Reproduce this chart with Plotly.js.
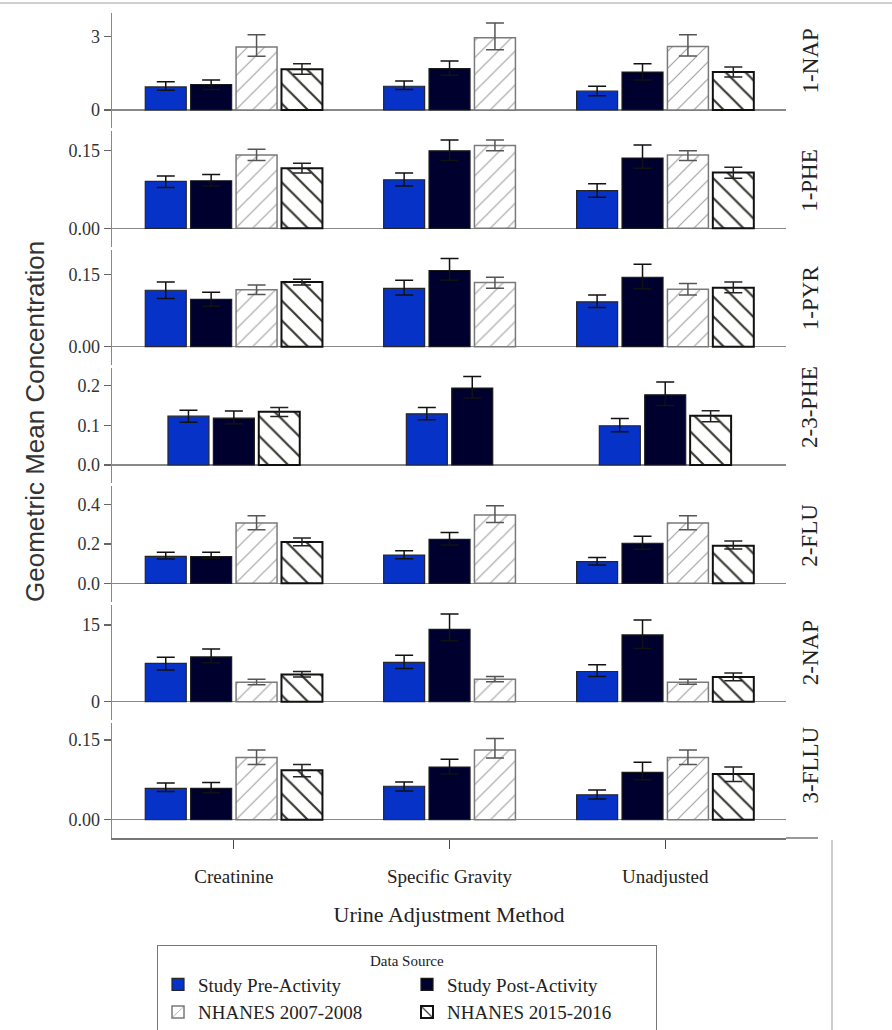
<!DOCTYPE html>
<html><head><meta charset="utf-8">
<script src="https://cdn.plot.ly/plotly-3.0.1.min.js"></script>
<style>html,body{margin:0;padding:0;background:#fff}</style>
</head><body><div id="chart" style="width:892px;height:1030px"></div>
<script>
const categories = ['Creatinine', 'Specific Gravity', 'Unadjusted'];
const analytes = ['1-NAP', '1-PHE', '1-PYR', '2-3-PHE', '2-FLU', '2-NAP', '3-FLLU'];
const seriesNames = ['Study Pre-Activity', 'Study Post-Activity', 'NHANES 2007-2008', 'NHANES 2015-2016'];

// rows = analytes (top to bottom), columns = categories
const preMean  = [[0.94, 0.97, 0.77], [0.091, 0.094, 0.073], [0.117, 0.121, 0.093], [0.123, 0.129, 0.099], [0.137, 0.144, 0.110], [7.5, 7.7, 5.9], [0.059, 0.063, 0.047]];
const preLow   = [[0.81, 0.84, 0.58], [0.079, 0.082, 0.060], [0.100, 0.107, 0.081], [0.108, 0.114, 0.084], [0.124, 0.125, 0.093], [6.2, 6.5, 4.9], [0.053, 0.054, 0.039]];
const preHigh  = [[1.15, 1.18, 0.97], [0.101, 0.107, 0.086], [0.134, 0.138, 0.107], [0.138, 0.145, 0.117], [0.158, 0.166, 0.132], [8.7, 9.1, 7.2], [0.069, 0.071, 0.056]];

const postMean = [[1.04, 1.69, 1.55], [0.092, 0.150, 0.136], [0.098, 0.158, 0.144], [0.118, 0.194, 0.177], [0.136, 0.224, 0.204], [8.75, 14.15, 13.05], [0.059, 0.099, 0.089]];
const postLow  = [[0.84, 1.42, 1.22], [0.082, 0.131, 0.116], [0.084, 0.138, 0.120], [0.104, 0.169, 0.150], [0.127, 0.195, 0.173], [7.6, 11.9, 10.4], [0.051, 0.086, 0.075]];
const postHigh = [[1.22, 2.00, 1.89], [0.104, 0.171, 0.161], [0.113, 0.183, 0.171], [0.136, 0.223, 0.209], [0.158, 0.259, 0.239], [10.3, 17.15, 16.0], [0.070, 0.114, 0.108]];

const n0708Mean = [[2.57, 2.95, 2.59], [0.142, 0.160, 0.142], [0.118, 0.133, 0.119], [null, null, null], [0.307, 0.348, 0.307], [3.8, 4.4, 3.8], [0.117, 0.131, 0.117]];
const n0708Low  = [[2.19, 2.46, 2.20], [0.131, 0.150, 0.131], [0.108, 0.121, 0.107], [null, null, null], [0.273, 0.310, 0.273], [3.3, 3.9, 3.4], [0.104, 0.116, 0.104]];
const n0708High = [[3.07, 3.55, 3.07], [0.153, 0.171, 0.150], [0.128, 0.144, 0.131], [null, null, null], [0.344, 0.395, 0.344], [4.4, 4.9, 4.4], [0.131, 0.153, 0.131]];

const n1516Mean = [[1.66, null, 1.55], [0.116, null, 0.108], [0.134, null, 0.122], [0.134, null, 0.124], [0.210, null, 0.191], [5.3, null, 4.8], [0.093, null, 0.086]];
const n1516Low  = [[1.46, null, 1.35], [0.107, null, 0.097], [0.128, null, 0.112], [0.122, null, 0.109], [0.191, null, 0.175], [4.8, null, 4.1], [0.081, null, 0.072]];
const n1516High = [[1.89, null, 1.76], [0.126, null, 0.118], [0.140, null, 0.134], [0.145, null, 0.137], [0.231, null, 0.215], [5.9, null, 5.6], [0.104, null, 0.099]];

const tickVals = [[0, 3], [0, 0.15], [0, 0.15], [0, 0.1, 0.2], [0, 0.2, 0.4], [0, 15], [0, 0.15]];
const tickText = [['0', '3'], ['0.00', '0.15'], ['0.00', '0.15'], ['0.0', '0.1', '0.2'], ['0.0', '0.2', '0.4'], ['0', '15'], ['0.00', '0.15']];

// ---------- styling / geometry ----------
const SERIF = 'Liberation Serif, Times New Roman, serif';
const SANS = 'Liberation Sans, Arial, sans-serif';
const W = 892, H = 1030, ML = 112, MR = 106, MT = 13, MB = 192;
const PW = W - ML - MR, PH = H - MT - MB;
const px2fx = x => (x - ML) / PW;
const px2fy = y => (H - MB - y) / PH;

const pxPerUnit = [24.5, 517, 482, 396.5, 196.5, 5.11, 533];
const PANEL_H = 115.3, PITCH = 118.33, FIRST_BOTTOM = 128.3, BELOW_ZERO = 18.3;

const means = [preMean, postMean, n0708Mean, n1516Mean];
const lows = [preLow, postLow, n0708Low, n1516Low];
const highs = [preHigh, postHigh, n0708High, n1516High];

const styles = [
  {marker: {color: '#0632c8', line: {color: '#262626', width: 1.2}}, err: '#111111'},
  {marker: {color: '#00002e', line: {color: '#1a1a1a', width: 1.2}}, err: '#111111'},
  {marker: {color: '#ffffff', line: {color: '#7a7a7a', width: 1.5},
            pattern: {shape: '/', fgcolor: '#a3a3a3', bgcolor: '#ffffff', size: 12, solidity: 0.1, fillmode: 'replace'}}, err: '#555555'},
  {marker: {color: '#ffffff', line: {color: '#111111', width: 2},
            pattern: {shape: '\\', fgcolor: '#3a3a34', bgcolor: '#ffffff', size: 14, solidity: 0.16, fillmode: 'replace'}}, err: '#222222'}
];

const BAR_W = 0.19, STEP = 0.2105;

const traces = [];
const layout = {
  width: W, height: H,
  margin: {l: ML, r: MR, t: MT, b: MB, autoexpand: false},
  paper_bgcolor: '#ffffff', plot_bgcolor: '#ffffff',
  barmode: 'overlay',
  showlegend: true,
  font: {family: SERIF, color: '#222'},
  xaxis: {
    type: 'category', categoryorder: 'array', categoryarray: categories,
    anchor: 'y7', domain: [0, 1], range: [-0.565, 2.56],
    showline: true, linecolor: '#777', linewidth: 1.5, mirror: false,
    showgrid: false, zeroline: false,
    ticks: 'outside', ticklen: 9, tickcolor: '#444', tickwidth: 1.2,
    tickfont: {family: SERIF, size: 19, color: '#222'},
    ticklabelstandoff: 12,
    title: {text: 'Urine Adjustment Method', font: {family: SERIF, size: 22, color: '#222'}, standoff: 20}
  },
  legend: {
    orientation: 'h', x: px2fx(157), y: px2fy(945), xanchor: 'left', yanchor: 'top',
    entrywidth: 204, entrywidthmode: 'pixels',
    font: {family: SERIF, size: 19, color: '#222'},
    title: {text: 'Data Source', side: 'top center', font: {family: SERIF, size: 15, color: '#222'}},
    bordercolor: '#777', borderwidth: 1, bgcolor: '#ffffff', traceorder: 'normal'
  },
  annotations: [],
  shapes: []
};

analytes.forEach((name, a) => {
  const axId = a === 0 ? 'y' : 'y' + (a + 1);
  const axKey = a === 0 ? 'yaxis' : 'yaxis' + (a + 1);
  const bottomPx = FIRST_BOTTOM + PITCH * a;
  const topPx = bottomPx - PANEL_H;
  const zeroPx = bottomPx - BELOW_ZERO;
  const s = pxPerUnit[a];
  layout[axKey] = {
    domain: [px2fy(bottomPx), px2fy(topPx)],
    anchor: 'x',
    range: [-BELOW_ZERO / s, (PANEL_H - BELOW_ZERO) / s],
    showline: true, linecolor: '#888', linewidth: 1.5,
    showgrid: false,
    zeroline: true, zerolinecolor: '#888', zerolinewidth: 1.5,
    ticks: 'outside', ticklen: 7, tickcolor: '#666', tickwidth: 1.2,
    tickmode: 'array', tickvals: tickVals[a], ticktext: tickText[a],
    tickfont: {family: SERIF, size: 18, color: '#333'},
    fixedrange: true
  };
  // facet strip label
  layout.annotations.push({
    text: name, xref: 'paper', yref: 'paper',
    x: px2fx(810), y: px2fy(zeroPx - 15), xanchor: 'center', yanchor: 'bottom',
    textangle: -90, showarrow: false,
    font: {family: SERIF, size: 23, color: '#222'}
  });

  means.forEach((m, k) => {
    const offsets = categories.map((c, j) => {
      const present = means.map(mm => mm[a][j] != null);
      const n = present.filter(Boolean).length;
      const pos = present.slice(0, k).filter(Boolean).length;
      return (pos - n / 2) * STEP + (STEP - BAR_W) / 2;
    });
    const y = m[a];
    traces.push({
      type: 'bar', name: seriesNames[k],
      x: categories, y: y,
      xaxis: 'x', yaxis: axId,
      width: categories.map(() => BAR_W), offset: offsets,
      marker: styles[k].marker,
      error_y: {
        type: 'data', symmetric: false,
        array: y.map((v, j) => v == null ? null : highs[k][a][j] - v),
        arrayminus: y.map((v, j) => v == null ? null : v - lows[k][a][j]),
        color: styles[k].err, thickness: 1.5, width: 9
      },
      legendgroup: seriesNames[k],
      showlegend: a === 0,
      hoverinfo: 'skip'
    });
  });
});

// y-axis title shared across panels
layout.annotations.push({
  text: 'Geometric Mean Concentration', xref: 'paper', yref: 'paper',
  x: px2fx(35), y: px2fy(422), xanchor: 'center', yanchor: 'middle',
  textangle: -90, showarrow: false,
  font: {family: SANS, size: 26, color: '#333'}
});

// frame decorations
layout.shapes.push(
  {type: 'line', xref: 'paper', yref: 'paper', x0: px2fx(0), x1: px2fx(W), y0: px2fy(3), y1: px2fy(3), line: {color: '#d0d0d0', width: 2}},
  {type: 'line', xref: 'paper', yref: 'paper', x0: 1, x1: px2fx(818), y0: 0, y1: 0, line: {color: '#777', width: 1.5}},
  {type: 'line', xref: 'paper', yref: 'paper', x0: px2fx(832), x1: px2fx(832), y0: px2fy(840), y1: px2fy(H), line: {color: '#cccccc', width: 2}}
);

Plotly.newPlot('chart', traces, layout, {staticPlot: true, displayModeBar: false});
</script>
</body></html>
